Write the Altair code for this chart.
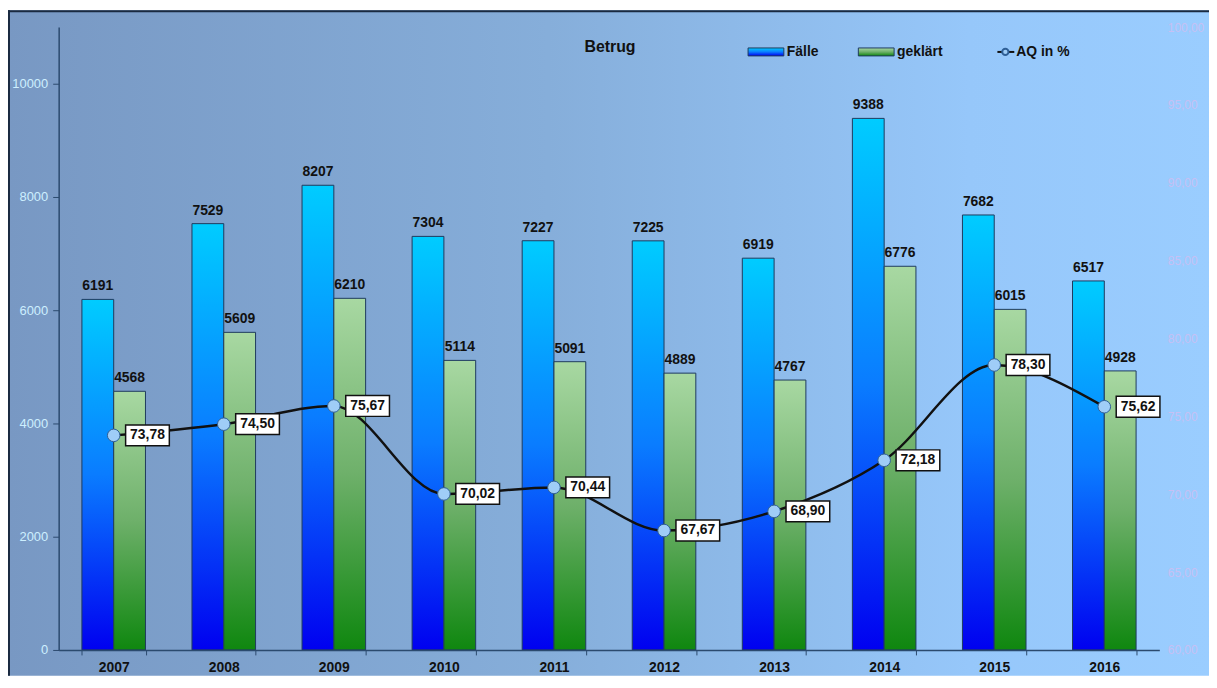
import altair as alt
import pandas as pd

years = ["2007", "2008", "2009", "2010", "2011", "2012", "2013", "2014", "2015", "2016"]
faelle = [6191, 7529, 8207, 7304, 7227, 7225, 6919, 9388, 7682, 6517]
geklaert = [4568, 5609, 6210, 5114, 5091, 4889, 4767, 6776, 6015, 4928]
aq = [73.78, 74.50, 75.67, 70.02, 70.44, 67.67, 68.90, 72.18, 78.30, 75.62]
aq_labels = [f"{v:.2f}".replace(".", ",") for v in aq]
left_ticks = [0, 2000, 4000, 6000, 8000, 10000]
right_ticks = [60, 65, 70, 75, 80, 85, 90, 95, 100]

df = pd.DataFrame({"Jahr": years, "faelle": faelle, "geklaert": geklaert,
                   "aq": aq, "aq_label": aq_labels})

FONT = "Liberation Sans"
W, H = 1108, 627

def grad(stops, vertical=True):
    return alt.Gradient(
        gradient="linear",
        stops=[alt.GradientStop(color=c, offset=o) for o, c in stops],
        x1=0, x2=0 if vertical else 1, y1=0, y2=1 if vertical else 0,
    )

x_enc = alt.X(
    "Jahr:N",
    scale=alt.Scale(paddingInner=0.42, paddingOuter=0.21),
    axis=alt.Axis(title=None, labelAngle=0, labelFont=FONT, labelFontSize=14,
                  labelFontWeight="bold", labelColor="#111111", labelPadding=6,
                  domainColor="#2b4a6e", domainWidth=1.5, tickColor="#2b4a6e",
                  tickBand="extent", tickSize=5, tickWidth=1, zindex=1),
)

left_scale = alt.Scale(domain=[0, 11000], nice=False, zero=True)
left_axis = alt.Axis(title=None, values=left_ticks, format="d", labelFont=FONT,
                     labelFontSize=13, labelColor="#cdefff", labelPadding=5,
                     domainColor="#2b4a6e", domainWidth=1.5, tickColor="#2b4a6e",
                     tickSize=6, grid=False, zindex=1)

blue_grad = grad([(0, "#00ccff"), (0.5, "#0a7cff"), (1, "#0000f0")])
green_grad = grad([(0, "#a8d8a2"), (0.5, "#6eb06a"), (1, "#0f870f")])

base = alt.Chart(df)

bar_f = base.mark_bar(width=32, xOffset=-16, fill=blue_grad, stroke="#1e3a5e",
                      strokeWidth=1).encode(
    x=x_enc, y=alt.Y("faelle:Q", scale=left_scale, axis=left_axis))
bar_g = base.mark_bar(width=32, xOffset=16, fill=green_grad, stroke="#1e3a5e",
                      strokeWidth=1).encode(
    x=x_enc, y=alt.Y("geklaert:Q", scale=left_scale, axis=left_axis))
txt_f = base.mark_text(xOffset=-16, dy=-13, font=FONT, fontSize=14, fontWeight="bold",
                       color="#111111").encode(
    x=x_enc, y=alt.Y("faelle:Q", scale=left_scale, axis=left_axis), text="faelle:Q")
txt_g = base.mark_text(xOffset=16, dy=-13, font=FONT, fontSize=14, fontWeight="bold",
                       color="#111111").encode(
    x=x_enc, y=alt.Y("geklaert:Q", scale=left_scale, axis=left_axis), text="geklaert:Q")

left = alt.layer(bar_f, bar_g, txt_f, txt_g)

right_scale = alt.Scale(domain=[60, 100], nice=False, zero=False)
right_axis = alt.Axis(title=None, orient="right", values=right_ticks, domain=False,
                      ticks=False, labelFont=FONT, labelFontSize=12,
                      labelColor="#c6c0f4", labelPadding=8, grid=False, zindex=1,
                      labelExpr="replace(format(datum.value, '.2f'), '.', ',')")
y_r = alt.Y("aq:Q", scale=right_scale, axis=right_axis)

line = base.mark_line(color="#111111", strokeWidth=2.5, interpolate="monotone").encode(
    x=x_enc, y=y_r)
pts = base.mark_point(filled=True, fill="#9fcdf7", stroke="#2f5f96", strokeWidth=1,
                      size=160, opacity=1).encode(x=x_enc, y=y_r)
boxes = base.mark_point(shape="M-1,-0.477L1,-0.477L1,0.477L-1,0.477Z", filled=True,
                        fill="white", stroke="#111111", strokeWidth=1.5, size=1936,
                        xOffset=34, opacity=1).encode(x=x_enc, y=y_r)
box_txt = base.mark_text(xOffset=34, font=FONT, fontSize=14, fontWeight="bold",
                         color="#111111", baseline="middle").encode(
    x=x_enc, y=y_r, text="aq_label:N")

right = alt.layer(line, pts, boxes, box_txt)

one = alt.Data(values=[{"a": 1}])
bg = alt.Chart(one).mark_rect(
    fill=grad([(0, "#7898c3"), (0.45, "#86aeda"), (0.8, "#96c7fa"), (1, "#9acdff")],
              vertical=False)
).encode(x=alt.value(-51), x2=alt.value(1158), y=alt.value(-17), y2=alt.value(653))
frame_top = alt.Chart(one).mark_rule(color="#1a2a40", strokeWidth=2).encode(
    x=alt.value(-51), x2=alt.value(1158), y=alt.value(-16))
frame_left = alt.Chart(one).mark_rule(color="#1a2a40", strokeWidth=2).encode(
    x=alt.value(-50), y=alt.value(-17), y2=alt.value(653))

title = alt.Chart(one).mark_text(text="Betrug", font=FONT, fontSize=16, fontWeight="bold",
                                 color="#111111").encode(x=alt.value(555), y=alt.value(20))
sw_f = alt.Chart(one).mark_rect(fill=blue_grad, stroke="#1e3a5e", strokeWidth=1).encode(
    x=alt.value(694), x2=alt.value(730), y=alt.value(21), y2=alt.value(29))
lt_f = alt.Chart(one).mark_text(text="Fälle", font=FONT, fontSize=14, fontWeight="bold",
                                color="#111111", align="left", baseline="middle").encode(
    x=alt.value(733), y=alt.value(25))
sw_g = alt.Chart(one).mark_rect(fill=green_grad, stroke="#1e3a5e", strokeWidth=1).encode(
    x=alt.value(805), x2=alt.value(841), y=alt.value(21), y2=alt.value(29))
lt_g = alt.Chart(one).mark_text(text="geklärt", font=FONT, fontSize=14, fontWeight="bold",
                                color="#111111", align="left", baseline="middle").encode(
    x=alt.value(844), y=alt.value(25))
ln_a = alt.Chart(one).mark_rule(color="#111111", strokeWidth=2).encode(
    x=alt.value(945), x2=alt.value(962), y=alt.value(25))
pt_a = alt.Chart(one).mark_point(filled=True, fill="#9fcdf7", stroke="#2f5f96",
                                 size=40, opacity=1).encode(x=alt.value(953), y=alt.value(25))
lt_a = alt.Chart(one).mark_text(text="AQ in %", font=FONT, fontSize=14, fontWeight="bold",
                                color="#111111", align="left", baseline="middle").encode(
    x=alt.value(964), y=alt.value(25))

chart = alt.layer(
    bg, frame_top, frame_left, left, right,
    title, sw_f, lt_f, sw_g, lt_g, ln_a, pt_a, lt_a,
).resolve_scale(y="independent").properties(
    width=W, height=H,
    autosize=alt.AutoSizeParams(type="none"),
    padding={"left": 51, "top": 17, "right": 50, "bottom": 26},
).configure_view(stroke=None).configure(background="white")

chart.save("out.html", embed_options={"renderer": "svg", "actions": False})
